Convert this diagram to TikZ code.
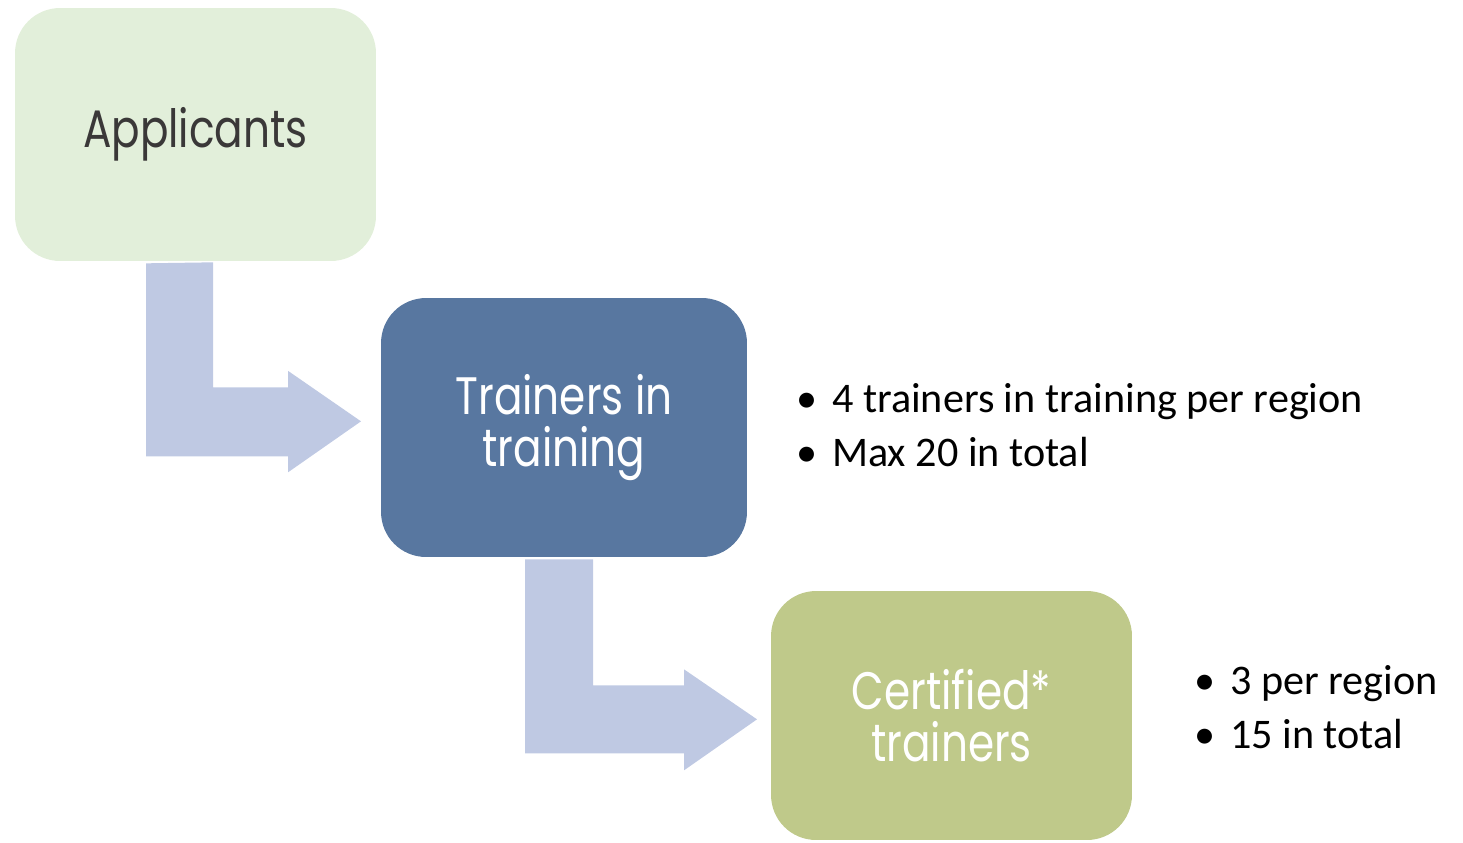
\documentclass[tikz,border=0pt]{standalone}
\usepackage{fontspec}
\setmainfont{Carlito}
\newfontfamily\boxfont[FakeStretch=0.8]{Poppins}
\usepackage{tikz}
\usetikzlibrary{calc}
\usetikzlibrary{positioning}

\definecolor{appfill}{HTML}{E2EFDA}
\definecolor{appink}{HTML}{3A3838}
\definecolor{trainfill}{HTML}{5877A0}
\definecolor{certfill}{HTML}{BFC98A}
\definecolor{flowfill}{HTML}{BFC9E3}

\tikzset{
	stage/.style={rounded corners=0.9cm, align=center, inner sep=0pt,
		font=\boxfont\fontsize{30}{30}\selectfont},
	flow/.style={fill=flowfill},
	note/.style={anchor=base west, align=left, inner sep=0pt,
		font=\fontsize{24}{30.6}\selectfont}
}

\begin{document}
\begin{tikzpicture}[x=0.02cm, y=-0.02cm]
			\useasboundingbox (0,0) rectangle (1463,842);

			\node[stage, fill=appfill, text=appink, minimum width=7.22cm, minimum height=5.06cm] (app) at (195.5,134.5) {Applicants};
			\node[stage, fill=trainfill, text=white, minimum width=7.32cm, minimum height=5.18cm] (train) at (564,427.5) {Trainers in\\training};
			\node[stage, fill=certfill, text=white, minimum width=7.22cm, minimum height=4.98cm] (cert) at (951.5,715.5) {Certified*\\trainers};

			% bent arrows
			\fill[flow] ($(app.south)+(-49.5,2)$) -- ++(0,193) -- ++(142,0) -- ++(0,16) -- ++(73,-51)
				-- ++(-73,-50.5) -- ++(0,16.5) -- ++(-75,0) -- ++(0,-125) -- cycle;
			\fill[flow] ($(train.south)+(-39,2)$) -- ++(0,194) -- ++(159,0) -- ++(0,17) -- ++(73,-51)
				-- ++(-73,-50) -- ++(0,16) -- ++(-91,0) -- ++(0,-126) -- cycle;

			\node[note] (trainnote) at (796,466) {\textbullet\hspace{0.35em}4 trainers in training per region\\\textbullet\hspace{0.35em}Max 20 in total};
			\node[note] (certnote) at (1194,748) {\textbullet\hspace{0.35em}3 per region\\\textbullet\hspace{0.35em}15 in total};
\end{tikzpicture}
\end{document}
